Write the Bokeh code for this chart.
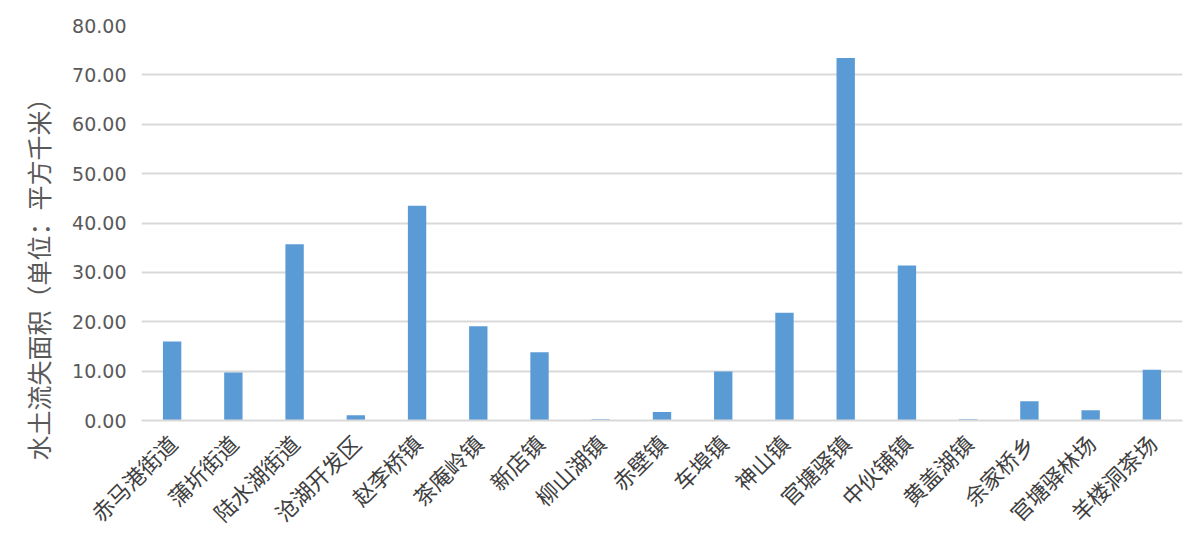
import math
from bokeh.plotting import figure
from bokeh.models import FactorRange, Range1d, NumeralTickFormatter, SingleIntervalTicker, Title
from bokeh.embed import file_html
from bokeh.resources import INLINE

categories = ["赤马港街道", "蒲圻街道", "陆水湖街道", "沧湖开发区", "赵李桥镇", "茶庵岭镇",
              "新店镇", "柳山湖镇", "赤壁镇", "车埠镇", "神山镇", "官塘驿镇", "中伙铺镇",
              "黄盖湖镇", "余家桥乡", "官塘驿林场", "羊楼洞茶场"]
values = [16.0, 9.7, 35.7, 1.05, 43.5, 19.1, 13.8, 0.25, 1.7, 9.9, 21.8, 73.4, 31.4,
          0.25, 3.9, 2.1, 10.3]
y_title = "水土流失面积（单位：平方千米）"

p = figure(x_range=FactorRange(*categories), y_range=Range1d(0, 80),
           width=1195, height=541, output_backend="svg", toolbar_location=None,
           min_border_left=141, min_border_right=13, min_border_top=25, min_border_bottom=121)
p.outline_line_color = None
p.background_fill_color = "white"
p.border_fill_color = "white"

p.vbar(x=categories, top=values, width=0.3, color="#5b9bd5", line_color=None)

p.yaxis.ticker = SingleIntervalTicker(interval=10)
p.yaxis.formatter = NumeralTickFormatter(format="0.00")
p.yaxis.axis_line_color = None
p.yaxis.major_tick_line_color = None
p.yaxis.minor_tick_line_color = None
p.yaxis.major_label_standoff = 9
p.yaxis.major_label_text_font = "DejaVu Sans"
p.yaxis.major_label_text_font_size = "19px"
p.yaxis.major_label_text_color = "#595959"

p.add_layout(Title(text=y_title, align="left", offset=-40, standoff=27,
                   text_font="Noto Sans CJK SC", text_font_size="25px",
                   text_font_style="normal", text_color="#595959"), "left")

p.xaxis.axis_line_color = "#d9d9d9"
p.xaxis.axis_line_width = 2
p.xaxis.major_tick_line_color = None
p.xaxis.minor_tick_line_color = None
p.xaxis.major_label_orientation = math.pi / 4
p.xaxis.major_label_standoff = 12
p.xaxis.major_label_text_font = "Noto Sans CJK SC"
p.xaxis.major_label_text_font_size = "22px"
p.xaxis.major_label_text_color = "#404040"

p.xgrid.grid_line_color = None
p.ygrid.grid_line_color = "#d9d9d9"
p.ygrid.grid_line_width = 2

open("out.html", "w").write(file_html(p, INLINE))
